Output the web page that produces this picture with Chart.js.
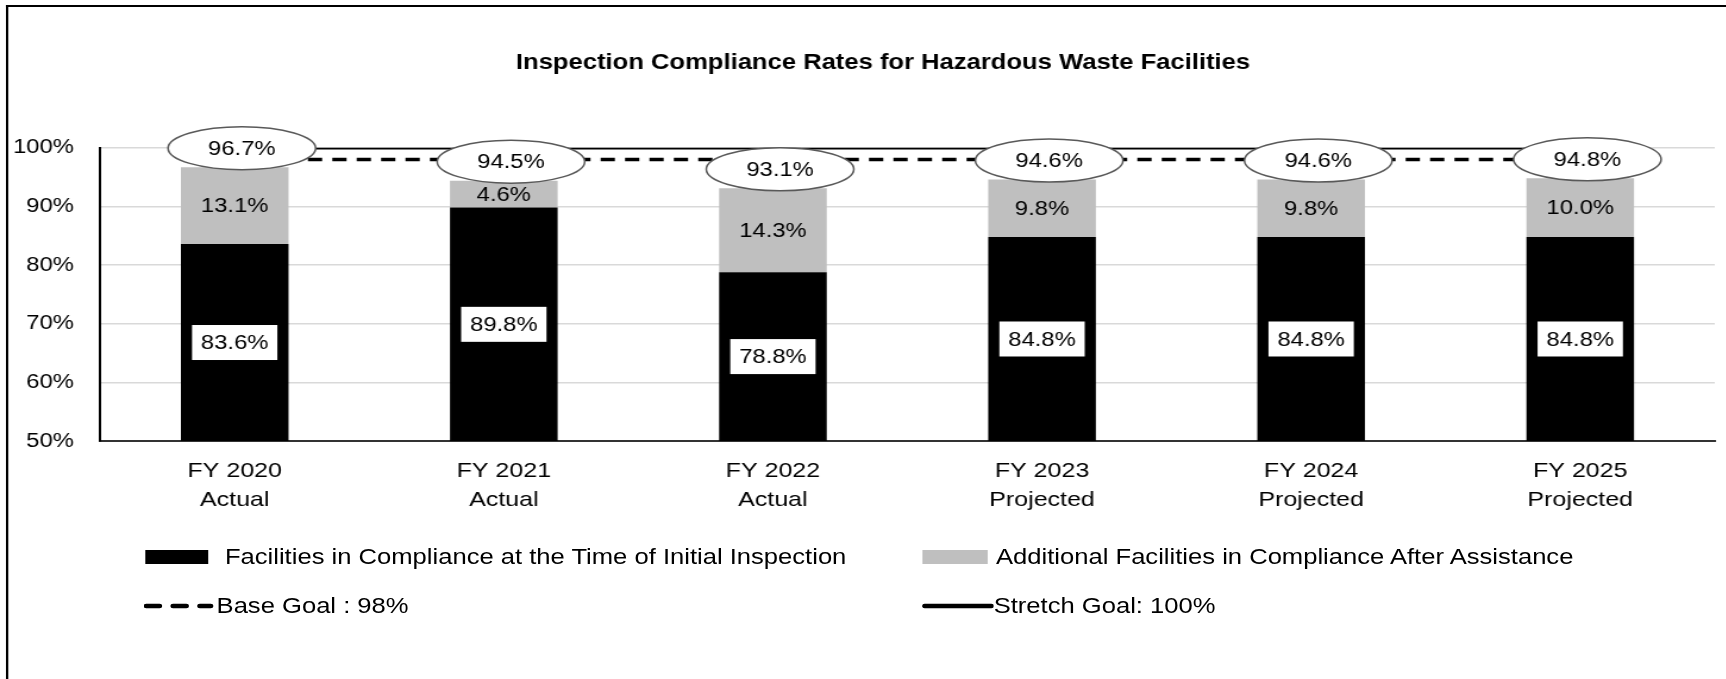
<!DOCTYPE html>
<html>
<head>
<meta charset="utf-8">
<script src="https://cdn.jsdelivr.net/npm/chart.js@4.4.1/dist/chart.umd.min.js"></script>
<style>
    html, body { margin: 0; padding: 0; background: #fff; overflow: hidden; width: 1726px; height: 679px; }
    #stage { position: absolute; left: 0; top: 0; width: 1450px; height: 679px; transform: scaleX(1.19); transform-origin: 0 0; }
    #frame { position: absolute; left: 5px; top: 5px; width: 2000px; height: 1000px; border-left: 2px solid #000; border-top: 2px solid #000; }
    #chartBox { position: absolute; left: -22px; top: 0; width: 1472px; height: 531px; }
    .legend-item { position: absolute; height: 30px; font-family: "Liberation Sans", Arial, sans-serif; font-size: 21.5px; color: #000; white-space: nowrap; }
    .legend-item svg { position: absolute; left: 0; top: 0; }
    .legend-item span { position: absolute; top: 3px; }
</style>
</head>
<body>
<div id="stage">
    <div id="frame"></div>
    <div id="chartBox"><canvas id="complianceChart"></canvas></div>
    <div id="legend"></div>
</div>
<script>
// DATA
const categories = [
    ['FY 2020', 'Actual'], ['FY 2021', 'Actual'], ['FY 2022', 'Actual'],
    ['FY 2023', 'Projected'], ['FY 2024', 'Projected'], ['FY 2025', 'Projected']
];
const initialRate = [83.6, 89.8, 78.8, 84.8, 84.8, 84.8];
const afterAssist = [13.1, 4.6, 14.3, 9.8, 9.8, 10.0];
const totalRate = [96.7, 94.5, 93.1, 94.6, 94.6, 94.8];
const baseGoal = [98, 98, 98, 98, 98, 98];
const stretchGoal = [100, 100, 100, 100, 100, 100];
const yMin = 50, yMax = 100, yStep = 10;

const FONT = '"Liberation Sans", Arial, sans-serif';
Chart.defaults.font.family = FONT;
Chart.defaults.color = '#000';

// title sits a bit right of the plot centre in the original
const titleShift = {
    id: 'titleShift',
    afterLayout(chart) {
        chart.titleBlock.left += 27;
        chart.titleBlock.right += 27;
    }
};

// labels inside bars + ellipse callouts for totals
const barLabels = {
    id: 'barLabels',
    afterDatasetsDraw(chart) {
        const ctx = chart.ctx;
        const area = chart.chartArea;
        const black = chart.getDatasetMeta(0);
        const gray = chart.getDatasetMeta(1);
        ctx.save();
        ctx.font = '20px ' + FONT;
        ctx.textAlign = 'center';
        ctx.textBaseline = 'middle';

        black.data.forEach(function(bar, i) {
            const bottom = Math.min(bar.base, area.bottom);
            const cy = (bar.y + bottom) / 2;
            const txt = initialRate[i].toFixed(1) + '%';
            const w = ctx.measureText(txt).width + 15;
            const h = 35;
            ctx.fillStyle = '#fff';
            ctx.fillRect(bar.x - w / 2, cy - h / 2, w, h);
            ctx.fillStyle = '#000';
            ctx.fillText(txt, bar.x, cy + 1);
        });

        gray.data.forEach(function(bar, i) {
            const cy = (bar.y + bar.base) / 2;
            ctx.fillStyle = '#000';
            ctx.fillText(afterAssist[i].toFixed(1) + '%', bar.x, cy + 1);
        });

        gray.data.forEach(function(bar, i) {
            const cx = bar.x + 6;
            const cy = bar.y - 19;
            ctx.beginPath();
            ctx.ellipse(cx, cy, 62, 21.5, 0, 0, Math.PI * 2);
            ctx.fillStyle = '#fff';
            ctx.fill();
            ctx.lineWidth = 1.5;
            ctx.strokeStyle = '#595959';
            ctx.stroke();
            ctx.fillStyle = '#000';
            ctx.fillText(totalRate[i].toFixed(1) + '%', cx, cy + 1);
        });
        ctx.restore();
    }
};

const ctx = document.getElementById('complianceChart').getContext('2d');
const chart = new Chart(ctx, {
    type: 'bar',
    data: {
        labels: categories,
        datasets: [{
            label: 'Facilities in Compliance at the Time of Initial Inspection',
            data: initialRate,
            backgroundColor: '#000000',
            stack: 'rates',
            barPercentage: 0.4,
            categoryPercentage: 1.0
        }, {
            label: 'Additional Facilities in Compliance After Assistance',
            data: afterAssist,
            backgroundColor: '#bfbfbf',
            stack: 'rates',
            barPercentage: 0.4,
            categoryPercentage: 1.0
        }, {
            type: 'line',
            label: 'Base Goal : 98%',
            data: baseGoal,
            stack: 'base',
            borderColor: '#000',
            borderWidth: 3.5,
            borderDash: [12, 8.5],
            pointRadius: 0,
            fill: false
        }, {
            type: 'line',
            label: 'Stretch Goal: 100%',
            data: stretchGoal,
            stack: 'stretch',
            borderColor: '#000',
            borderWidth: 3.5,
            pointRadius: 0,
            fill: false
        }]
    },
    options: {
        responsive: true,
        maintainAspectRatio: false,
        animation: false,
        layout: { padding: { left: 11, right: 9, top: 0, bottom: 0 } },
        plugins: {
            legend: { display: false },
            tooltip: { enabled: false },
            title: {
                display: true,
                text: 'Inspection Compliance Rates for Hazardous Waste Facilities',
                font: { size: 21.5, weight: 'bold' },
                color: '#000',
                padding: { top: 50, bottom: 72 }
            }
        },
        scales: {
            x: {
                stacked: true,
                grid: { display: false, drawTicks: false },
                border: { display: true, color: '#333', width: 2 },
                ticks: { font: { size: 21, lineHeight: 1.38 }, padding: 16, maxRotation: 0 }
            },
            y: {
                stacked: true,
                min: yMin,
                max: yMax,
                grid: { color: '#d9d9d9', lineWidth: 1.5, drawTicks: false },
                border: { display: true, color: '#000', width: 2 },
                ticks: {
                    stepSize: yStep,
                    font: { size: 20 },
                    padding: 22,
                    callback: function(v) { return v + '%'; }
                }
            }
        }
    },
    plugins: [titleShift, barLabels]
});

// LEGEND (two columns, built from the datasets)
function buildLegend(chart) {
    const spots = [
        { left: 122, top: 542, textLeft: 67 },
        { left: 775, top: 542, textLeft: 62 },
        { left: 121, top: 591, textLeft: 61 },
        { left: 775, top: 591, textLeft: 60 }
    ];
    const box = document.getElementById('legend');
    chart.data.datasets.forEach(function(ds, i) {
        const s = spots[i];
        let mark;
        if (ds.type === 'line') {
            const dash = ds.borderDash ? 'stroke-dasharray="11 11.5"' : '';
            mark = '<svg width="60" height="30"><line x1="2" y1="15" x2="' + (ds.borderDash ? 56 : 58) +
                '" y2="15" stroke="#000" stroke-width="4.5" stroke-linecap="round" ' + dash + '/></svg>';
        } else {
            mark = '<svg width="60" height="30"><rect x="0" y="8" width="' + (i === 0 ? 53 : 55) +
                '" height="14" fill="' + ds.backgroundColor + '"/></svg>';
        }
        const div = document.createElement('div');
        div.className = 'legend-item';
        div.style.left = s.left + 'px';
        div.style.top = s.top + 'px';
        div.innerHTML = mark + '<span style="left:' + s.textLeft + 'px">' + ds.label + '</span>';
        box.appendChild(div);
    });
}
buildLegend(chart);
</script>
</body>
</html>
